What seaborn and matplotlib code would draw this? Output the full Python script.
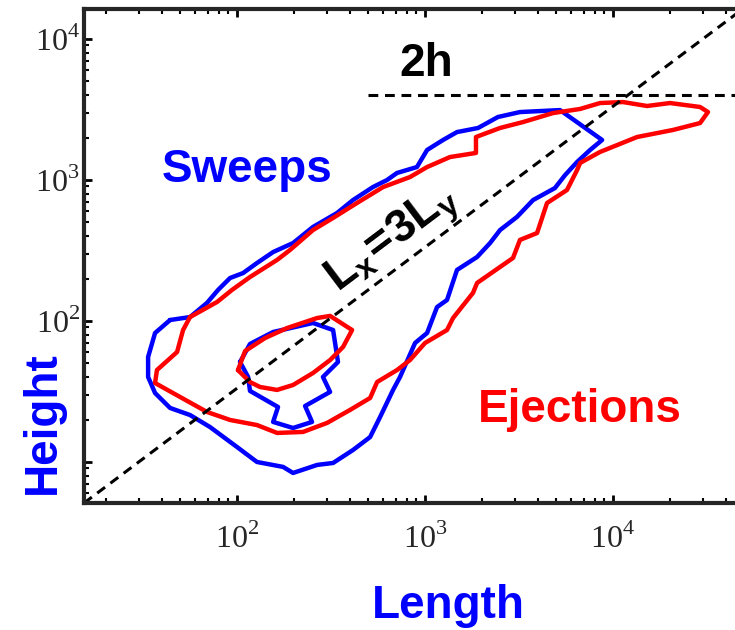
import numpy as np
import pandas as pd
import matplotlib
matplotlib.use("Agg")
import matplotlib.pyplot as plt
from matplotlib.ticker import FuncFormatter, LogLocator
import seaborn as sns

# contour outlines, stored as log10(value)
sweeps_outer_len = [1.644, 1.750, 1.840, 1.899, 1.963, 2.032, 2.106, 2.192, 2.298, 2.404,
                    2.532, 2.617, 2.723, 2.798, 2.851, 2.957, 3.011, 3.096, 3.170, 3.282,
                    3.388, 3.505, 3.718, 3.942, 3.878, 3.809, 3.745, 3.691, 3.575, 3.489,
                    3.399, 3.346, 3.277, 3.170, 3.117, 3.064, 3.011, 2.947, 2.867, 2.830,
                    2.761, 2.708, 2.617, 2.511, 2.426, 2.298, 2.245, 2.106, 2.000, 1.856,
                    1.750, 1.644, 1.564, 1.527, 1.527, 1.564]
sweeps_outer_hgt = [2.007, 2.028, 2.128, 2.220, 2.305, 2.340, 2.411, 2.489, 2.553, 2.667,
                    2.766, 2.858, 2.950, 3.000, 3.050, 3.092, 3.213, 3.284, 3.340, 3.369,
                    3.447, 3.482, 3.496, 3.284, 3.213, 3.128, 3.035, 2.943, 2.858, 2.738,
                    2.645, 2.553, 2.454, 2.362, 2.149, 2.099, 1.915, 1.844, 1.603, 1.511,
                    1.319, 1.177, 1.085, 0.993, 0.979, 0.922, 0.965, 1.000, 1.106, 1.248,
                    1.333, 1.383, 1.489, 1.603, 1.745, 1.915]

sweeps_inner_len = [2.016, 2.069, 2.192, 2.404, 2.511, 2.537, 2.457, 2.495, 2.362, 2.399,
                    2.298, 2.192, 2.218, 2.069, 2.059]
sweeps_inner_hgt = [1.709, 1.837, 1.922, 1.986, 1.936, 1.709, 1.603, 1.497, 1.397, 1.284,
                    1.241, 1.284, 1.390, 1.504, 1.603]

ejections_outer_len = [1.750, 1.894, 1.973, 2.069, 2.213, 2.282, 2.404, 2.511, 2.638, 2.777,
                       2.920, 3.011, 3.133, 3.271, 3.271, 3.399, 3.521, 3.681, 3.825, 3.931,
                       4.053, 4.181, 4.303, 4.463, 4.505, 4.463, 4.319, 4.128, 3.931, 3.825,
                       3.809, 3.755, 3.649, 3.596, 3.505, 3.468, 3.399, 3.277, 3.255, 3.149,
                       3.117, 3.000, 2.920, 2.851, 2.745, 2.708, 2.601, 2.479, 2.351, 2.213,
                       2.106, 1.963, 1.840, 1.697, 1.564, 1.574, 1.681, 1.713]
ejections_outer_hgt = [2.028, 2.135, 2.220, 2.312, 2.433, 2.504, 2.645, 2.731, 2.837, 2.950,
                       3.021, 3.092, 3.163, 3.192, 3.305, 3.369, 3.411, 3.475, 3.504, 3.546,
                       3.553, 3.525, 3.546, 3.518, 3.482, 3.404, 3.355, 3.305, 3.199, 3.121,
                       3.071, 2.929, 2.837, 2.624, 2.575, 2.447, 2.383, 2.270, 2.199, 2.021,
                       1.936, 1.844, 1.723, 1.652, 1.567, 1.454, 1.369, 1.277, 1.213, 1.206,
                       1.262, 1.298, 1.355, 1.461, 1.560, 1.652, 1.780, 1.936]

ejections_inner_len = [2.005, 2.043, 2.149, 2.266, 2.426, 2.495, 2.612, 2.564, 2.495, 2.404,
                       2.298, 2.213, 2.122, 2.069]
ejections_inner_hgt = [1.652, 1.787, 1.879, 1.950, 2.021, 2.036, 1.936, 1.816, 1.723, 1.631,
                       1.546, 1.511, 1.532, 1.567]

aspect_ratio = 3      # Lx = 3 Ly
h = 2000              # half height
h_line_start = 500
labelled_decades = [2, 3, 4]

xlim_log = (1.186, 4.702)
ylim_log = (0.709, 4.213)


def outline(lx, ly, event, level):
    lx = list(lx) + [lx[0]]
    ly = list(ly) + [ly[0]]
    return pd.DataFrame({"length": 10.0 ** np.array(lx), "height": 10.0 ** np.array(ly),
                         "event": event, "unit": f"{event}-{level}"})


df = pd.concat([
    outline(sweeps_outer_len, sweeps_outer_hgt, "Sweeps", "outer"),
    outline(sweeps_inner_len, sweeps_inner_hgt, "Sweeps", "inner"),
    outline(ejections_outer_len, ejections_outer_hgt, "Ejections", "outer"),
    outline(ejections_inner_len, ejections_inner_hgt, "Ejections", "inner"),
], ignore_index=True)

sns.set_style("ticks")
plt.rcParams["font.family"] = ["Liberation Sans", "DejaVu Sans"]
plt.rcParams["mathtext.fontset"] = "custom"
plt.rcParams["mathtext.rm"] = "Liberation Serif"
plt.rcParams["mathtext.bf"] = "Liberation Sans:bold"
plt.rcParams["mathtext.sf"] = "Liberation Sans"

W, H = 735, 630
fig = plt.figure(figsize=(W / 100, H / 100), dpi=100)
ax = fig.add_axes([84 / W, (H - 503) / H, (745 - 84) / W, (503 - 9) / H])

sns.lineplot(data=df, x="length", y="height", hue="event", units="unit",
             estimator=None, sort=False, palette={"Sweeps": "blue", "Ejections": "red"},
             linewidth=3.2, legend=False, ax=ax)

ax.set_xscale("log")
ax.set_yscale("log")
ax.set_xlim(10 ** xlim_log[0], 10 ** xlim_log[1])
ax.set_ylim(10 ** ylim_log[0], 10 ** ylim_log[1])

# reference lines
ax.axline((1, 1 / aspect_ratio), (10, 10 / aspect_ratio), color="black",
          linewidth=2.2, linestyle=(0, (3.2, 2.2)))
ax.hlines(2 * h, h_line_start, 10 ** xlim_log[1], color="black",
          linewidth=2.2, linestyles=[(0, (3.2, 2.2))])

# ticks
for s in ax.spines.values():
    s.set_linewidth(3)
ax.xaxis.set_major_locator(LogLocator(base=10, numticks=10))
ax.yaxis.set_major_locator(LogLocator(base=10, numticks=10))
ax.xaxis.set_minor_locator(LogLocator(base=10, subs=np.arange(2, 10), numticks=20))
ax.yaxis.set_minor_locator(LogLocator(base=10, subs=np.arange(2, 10), numticks=20))


def decade_label(v, pos):
    e = int(round(np.log10(v)))
    return r"$10^{%d}$" % e if e in labelled_decades else ""


fmt = FuncFormatter(decade_label)
ax.xaxis.set_major_formatter(fmt)
ax.yaxis.set_major_formatter(fmt)
ax.tick_params(which="both", direction="in", top=True, right=True, color="black")
ax.tick_params(which="major", length=6, width=2, labelsize=23)
ax.tick_params(which="minor", length=3.5, width=1.5)
ax.tick_params(axis="x", which="major", pad=15)
ax.tick_params(axis="y", which="major", pad=3)
ax.set_xlabel("")
ax.set_ylabel("")

# annotations
def fx(px):
    return px / W


def fy(py):
    return 1 - py / H


fig.text(fx(448), fy(618), "Length", color="blue", fontsize=33, fontweight="bold",
         ha="center", va="baseline")
fig.text(fx(55), fy(423), "Height", color="blue", fontsize=33, fontweight="bold",
         ha="center", va="baseline", rotation=90, rotation_mode="anchor")
fig.text(fx(247), fy(182), "Sweeps", color="blue", fontsize=33, fontweight="bold",
         ha="center", va="baseline")
fig.text(fx(580), fy(422), "Ejections", color="red", fontsize=33, fontweight="bold",
         ha="center", va="baseline")
fig.text(fx(426), fy(76), "2h", color="black", fontsize=33, fontweight="bold",
         ha="center", va="baseline")
fig.text(fx(393), fy(240), r"$\mathbf{L_x\!=\!3L_y}$", color="black", fontsize=33,
         ha="center", va="center", rotation=37, rotation_mode="anchor")

fig.savefig("out.png", dpi=100)
